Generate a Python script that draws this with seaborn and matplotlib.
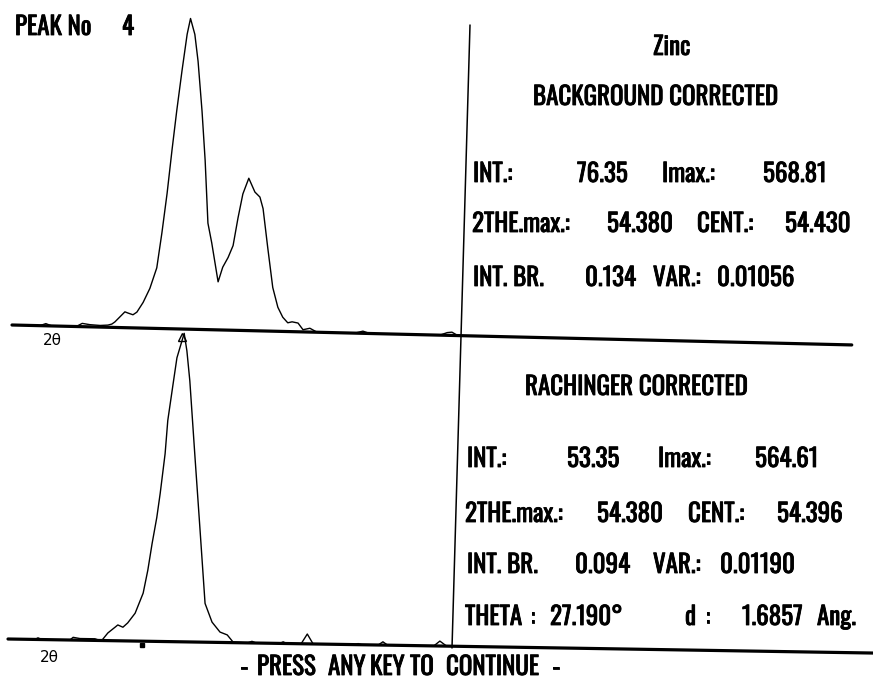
import matplotlib
matplotlib.use('Agg')
import matplotlib.pyplot as plt
import matplotlib.transforms as mtransforms
import matplotlib.font_manager as fm
import matplotlib.patheffects as pe
import seaborn as sns

# ==========================================
# Data (2-theta in degrees, counts)
# ==========================================
top_two_theta = [53.980, 54.045, 54.059, 54.073, 54.130, 54.144, 54.162, 54.186, 54.204, 54.213,
                 54.220, 54.243, 54.250, 54.262, 54.271, 54.285, 54.300, 54.315, 54.325, 54.335,
                 54.344, 54.353, 54.363, 54.373, 54.380, 54.391, 54.400, 54.412, 54.422, 54.432,
                 54.442, 54.459, 54.469, 54.481, 54.492, 54.502, 54.512, 54.525, 54.540, 54.552,
                 54.560, 54.573, 54.587, 54.600, 54.612, 54.624, 54.634, 54.648, 54.660, 54.676,
                 54.693, 54.781, 54.800, 54.816, 54.980, 54.997, 55.008, 55.022, 55.031]
top_counts = [0, 0, 4, 0, 0, 6, 4, 3, 4, 6,
              10, 29, 27, 24, 29, 47, 73, 111, 175, 248,
              327, 400, 473, 540, 569, 540, 491, 400, 310, 195,
              159, 88, 115, 133, 155, 206, 250, 279, 254, 245,
              224, 153, 80, 44, 26, 16, 18, 16, 4, 7,
              0, 0, 4, 0, 0, 5, 6, 0, 0]

bot_two_theta = [53.980, 54.043, 54.050, 54.059, 54.125, 54.132, 54.148, 54.183, 54.195, 54.200,
                 54.213, 54.230, 54.236, 54.248, 54.259, 54.276, 54.294, 54.304, 54.313, 54.323,
                 54.330, 54.340, 54.345, 54.356, 54.364, 54.380, 54.387, 54.395, 54.410, 54.424,
                 54.439, 54.456, 54.475, 54.492, 54.506, 54.540, 54.550, 54.560, 54.615, 54.623,
                 54.631, 54.665, 54.679, 54.693, 54.790, 54.798, 54.806, 54.845, 54.856, 54.867,
                 54.975, 54.989, 55.005]
bot_counts = [0, 0, 3, 0, 0, 5, 3, 3, 0, 1,
              14, 25, 29, 25, 33, 51, 88, 130, 179, 227,
              271, 344, 405, 472, 520, 565, 533, 478, 338, 210,
              71, 37, 19, 14, 1, 0, 3, 0, 0, 3,
              0, 0, 18, 0, 0, 2, 0, 0, 6, 0,
              0, 9, 0]

peak_no = 4
element = 'Zinc'
bg_stats = {'INT': '76.35', 'IMAX': '568.81', 'TTH': '54.380', 'CENT': '54.430',
            'BR': '0.134', 'VAR': '0.01056'}
ra_stats = {'INT': '53.35', 'IMAX': '564.61', 'TTH': '54.380', 'CENT': '54.396',
            'BR': '0.094', 'VAR': '0.01190'}
theta = '27.190'
d_spacing = '1.6857'
top_marker_2th = 54.377
bot_marker_2th = 54.294
prompt_words = ['-', 'PRESS', 'ANY', 'KEY', 'TO', 'CONTINUE', '-']

# ==========================================
# Figure geometry (pixels)
# ==========================================
W, H = 873, 679
PX_PER_DEG = 428.0
PX_PER_COUNT = 0.546
YMAX = 580

sns.set_style('white')
fig = plt.figure(figsize=(W / 100, H / 100), dpi=100)
fig.patch.set_facecolor('white')


def panel(left_px, base_px, width_px, tilt_deg, xs, ys, marker_x, marker_y, marker):
    ax = fig.add_axes([left_px / W, (H - base_px) / H, width_px / W, YMAX * PX_PER_COUNT / H])
    sns.lineplot(x=xs, y=ys, ax=ax, color='black', linewidth=1.0, estimator=None, sort=False)
    ax.axhline(0, color='black', linewidth=2.3)
    ax.plot([marker_x], [marker_y], marker=marker, color='black', markersize=6,
            markerfacecolor='white', markeredgewidth=1.0, linestyle='none')
    ax.set_xlim(53.98, 53.98 + width_px / PX_PER_DEG)
    ax.set_ylim(0, YMAX)
    ax.axis('off')
    # the screen dump is slightly skewed, follow it
    rot = mtransforms.Affine2D().rotate_deg_around(left_px, H - base_px, -tilt_deg)
    for ln in ax.lines:
        ln.set_transform(ln.get_transform() + rot)
        ln.set_clip_on(False)
    return ax


ax_top = panel(12, 325, 840, 1.36, top_two_theta, top_counts, top_marker_2th, -14, '^')
ax_bot = panel(8, 639, 865, 0.93, bot_two_theta, bot_counts, bot_marker_2th, -7, 's')
ax_bot.lines[-1].set_markersize(2.5)
ax_bot.lines[-1].set_markerfacecolor('black')

# divider between the plots and the numbers
ax_over = fig.add_axes([0, 0, 1, 1], zorder=-1)
ax_over.set_xlim(0, W)
ax_over.set_ylim(H, 0)
ax_over.axis('off')
ax_over.plot([470, 452], [25, 648], color='black', linewidth=1.1)

# ==========================================
# Text (tall narrow screen font if there is one)
# ==========================================
installed = {f.name for f in fm.fontManager.ttflist}
if 'Oswald' in installed:
    SCREEN = dict(family=['Oswald', 'DejaVu Sans'], weight='bold', fontsize=18,
                  path_effects=[pe.withStroke(linewidth=0.6, foreground='black')])
else:
    SCREEN = dict(family=['DejaVu Sans Mono'], weight='bold', fontsize=14)


def put(x, y, s, **kw):
    opts = dict(SCREEN, color='black', va='baseline')
    opts.update(kw)
    fig.text(x / W, 1 - y / H, s, **opts)


put(15, 35, 'PEAK No')
put(122, 35, str(peak_no))
put(653, 55, element)
put(533, 105, 'BACKGROUND CORRECTED')

put(473, 182, 'INT.:')
put(577, 182, bg_stats['INT'])
put(662, 182, 'Imax.:')
put(763, 182, bg_stats['IMAX'])
put(472, 232, '2THE.max.:')
put(607, 232, bg_stats['TTH'])
put(697, 232, 'CENT.:')
put(785, 232, bg_stats['CENT'])
put(473, 286, 'INT. BR.')
put(585, 286, bg_stats['BR'])
put(653, 286, 'VAR.:')
put(717, 286, bg_stats['VAR'])

put(525, 395, 'RACHINGER CORRECTED')
put(467, 467, 'INT.:')
put(567, 467, ra_stats['INT'])
put(658, 467, 'Imax.:')
put(755, 467, ra_stats['IMAX'])
put(465, 522, '2THE.max.:')
put(597, 522, ra_stats['TTH'])
put(688, 522, 'CENT.:')
put(777, 522, ra_stats['CENT'])
put(467, 573, 'INT. BR.')
put(575, 573, ra_stats['BR'])
put(653, 573, 'VAR.:')
put(720, 573, ra_stats['VAR'])
put(465, 625, 'THETA')
put(530, 625, ':')
put(550, 625, theta + '°')
put(685, 625, 'd')
put(705, 625, ':')
put(742, 625, d_spacing)
put(817, 625, 'Ang.')

# the prompt line, word by word at the screen's character cells
for word, x in zip(prompt_words, [240, 257, 328, 370, 410, 446, 552]):
    put(x, 675, word)

put(43, 345, '2θ', family='DejaVu Sans', weight='normal', fontsize=11, path_effects=[])
put(40, 662, '2θ', family='DejaVu Sans', weight='normal', fontsize=11, path_effects=[])

fig.savefig('out.png', dpi=100)
